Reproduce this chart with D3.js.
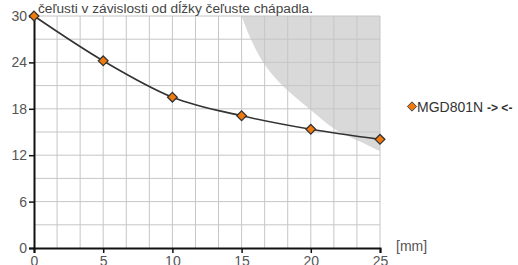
<!DOCTYPE html>
<html>
<head>
<meta charset="utf-8">
<script src="https://cdn.jsdelivr.net/npm/d3@7"></script>
<style>
  body { margin: 0; background: #fff; }
  text { font-family: "Liberation Sans", Arial, sans-serif; }
</style>
</head>
<body>
<div id="chart"></div>
<script>
// data
const lengths = [0, 5, 10, 15, 20, 25];
const forces = [30, 24.2, 19.5, 17.1, 15.35, 14.05];
const xTicks = [0, 5, 10, 15, 20, 25];
const yTicks = [0, 6, 12, 18, 24, 30];
// boundary of the grey (not allowed) zone
const zoneX = [15.0, 15.7, 16.6, 18.0, 20.0, 21.8, 23.75, 25];
const zoneY = [30, 26.9, 23.9, 20.9, 17.85, 15.3, 13.6, 12.5];
const title = "čeľusti v závislosti od dĺžky čeľuste chápadla.";
const seriesName = "MGD801N";

const width = 518, height = 265;
const plotLeft = 34, plotRight = 380, plotTop = 16, plotBottom = 248;

const svg = d3.select('#chart').append('svg')
    .attr('width', width)
    .attr('height', height);

const x = d3.scaleLinear().domain([0, 25]).range([plotLeft, plotRight]);
const y = d3.scaleLinear().domain([0, 30]).range([plotBottom, plotTop]);

// grey zone
const zone = zoneX.map((v, i) => [v, zoneY[i]]);
const area = d3.area()
    .curve(d3.curveCatmullRom)
    .x(d => x(d[0]))
    .y0(d => y(d[1]))
    .y1(y(30));
svg.append('path')
    .attr('d', area(zone))
    .attr('fill', '#d9d9d9');

// grid
const g = svg.append('g');
g.selectAll('line.v')
    .data(d3.range(1, 16).map(i => i * 25 / 15))
    .enter().append('line')
    .attr('x1', d => x(d)).attr('x2', d => x(d))
    .attr('y1', y(0)).attr('y2', y(30))
    .attr('stroke', '#c6c6c6').attr('stroke-width', 1);
g.selectAll('line.h')
    .data(d3.range(1, 11).map(i => i * 3))
    .enter().append('line')
    .attr('y1', d => y(d)).attr('y2', d => y(d))
    .attr('x1', x(0)).attr('x2', x(25))
    .attr('stroke', '#c6c6c6').attr('stroke-width', 1);

// axes
const xAxis = svg.append('g')
    .attr('transform', `translate(0,${plotBottom})`)
    .call(d3.axisBottom(x).tickValues(xTicks).tickSize(5).tickPadding(3));
const yAxis = svg.append('g')
    .attr('transform', `translate(${plotLeft},0)`)
    .call(d3.axisLeft(y).tickValues(yTicks).tickSize(5).tickPadding(2));
[xAxis, yAxis].forEach(a => {
    a.select('.domain').attr('stroke', '#111').attr('stroke-width', 2);
    a.selectAll('.tick line').attr('stroke', '#111').attr('stroke-width', 1.5);
    a.selectAll('.tick text')
        .attr('fill', '#555')
        .attr('font-size', 14)
        .attr('font-family', '"Liberation Sans", Arial, sans-serif');
});

// line
const pts = lengths.map((v, i) => [v, forces[i]]);
svg.append('path')
    .attr('d', d3.line().curve(d3.curveMonotoneX).x(d => x(d[0])).y(d => y(d[1]))(pts))
    .attr('fill', 'none')
    .attr('stroke', '#333')
    .attr('stroke-width', 1.6);

const diamond = d3.symbol().type(d3.symbolDiamond2).size(60);
svg.append('g').selectAll('path')
    .data(pts)
    .enter().append('path')
    .attr('d', diamond)
    .attr('transform', d => `translate(${x(d[0])},${y(d[1])})`)
    .attr('fill', '#f07a10')
    .attr('stroke', '#333')
    .attr('stroke-width', 1.3);

// title
svg.append('text')
    .attr('x', 38).attr('y', 13)
    .attr('font-size', 13.7)
    .attr('fill', '#444')
    .text(title);

// axis unit
svg.append('text')
    .attr('x', 396).attr('y', 251)
    .attr('font-size', 14)
    .attr('fill', '#555')
    .text('[mm]');

// legend
svg.append('path')
    .attr('d', d3.symbol().type(d3.symbolDiamond2).size(55))
    .attr('transform', 'translate(412,106.5)')
    .attr('fill', '#f07a10')
    .attr('stroke', '#444')
    .attr('stroke-width', 1);
const leg = svg.append('text')
    .attr('x', 417).attr('y', 112)
    .attr('font-size', 14)
    .attr('fill', '#333');
leg.append('tspan').text(seriesName + ' ');
leg.append('tspan').attr('font-weight', 'bold').attr('font-size', 12).text('-> <-');
</script>
</body>
</html>
